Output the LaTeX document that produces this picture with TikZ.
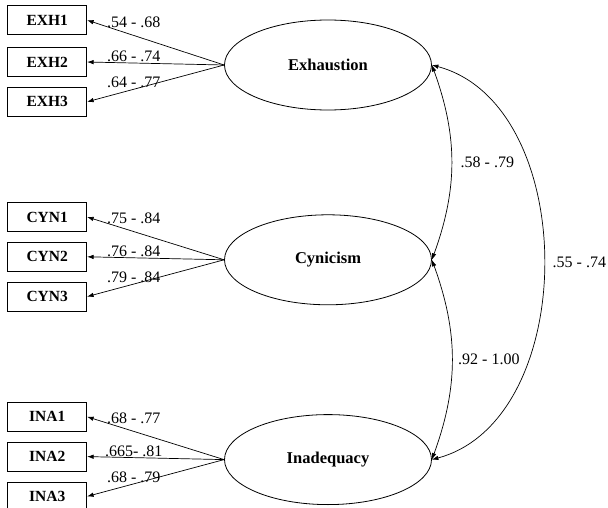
\documentclass[tikz,border=0pt]{standalone}
\usepackage{fontspec}
\setmainfont{Liberation Serif}
\usetikzlibrary{shapes.geometric,arrows.meta,positioning}

\begin{document}
\begin{tikzpicture}[
    x=1pt, y=1pt,
    node distance=10pt and 137pt,
    latent/.style={ellipse, draw, line width=0.8pt, minimum width=207pt, minimum height=90pt, font=\bfseries\fontsize{16.5}{18}\selectfont},
    item/.style={rectangle, draw, line width=0.8pt, minimum width=79pt, minimum height=29pt, font=\bfseries\fontsize{15.5}{17}\selectfont},
    load/.style={-{Latex[length=6.5pt,width=4.5pt]}, line width=0.7pt},
    corr/.style={{Latex[length=6.5pt,width=4.5pt]}-{Latex[length=6.5pt,width=4.5pt]}, line width=0.7pt},
    lbl/.style={font=\fontsize{16}{18}\selectfont, inner sep=1pt},
]
    \useasboundingbox (0,0) rectangle (608,-508);

    % latent factors
    \node[latent] (exh) at (328,-65) {Exhaustion};
    \node[latent, below=104pt of exh] (cyn) {Cynicism};
    \node[latent, below=109pt of cyn] (ina) {Inadequacy};

    % items
    \node[item, left=137pt of exh, yshift=3pt] (exh2) {EXH2};
    \node[item, above=12pt of exh2] (exh1) {EXH1};
    \node[item, below=of exh2] (exh3) {EXH3};
    \node[item, left=137pt of cyn, yshift=3pt] (cyn2) {CYN2};
    \node[item, above=of cyn2] (cyn1) {CYN1};
    \node[item, below=of cyn2] (cyn3) {CYN3};
    \node[item, left=137pt of ina, yshift=3pt] (ina2) {INA2};
    \node[item, above=of ina2] (ina1) {INA1};
    \node[item, below=of ina2] (ina3) {INA3};

    % loadings
    \draw[load] (exh.west) -- node[lbl, pos=.66, above=6pt] {.54 - .68} (exh1.east);
    \draw[load] (exh.west) -- node[lbl, pos=.66, above] {.66 - .74} (exh2.east);
    \draw[load] (exh.west) -- node[lbl, pos=.66, above] {.64 - .77} (exh3.east);
    \draw[load] (cyn.west) -- node[lbl, pos=.66, above=6pt] {.75 - .84} (cyn1.east);
    \draw[load] (cyn.west) -- node[lbl, pos=.66, above] {.76 - .84} (cyn2.east);
    \draw[load] (cyn.west) -- node[lbl, pos=.66, above] {.79 - .84} (cyn3.east);
    \draw[load] (ina.west) -- node[lbl, pos=.66, above=6pt] {.68 - .77} (ina1.east);
    \draw[load] (ina.west) -- node[lbl, pos=.66, above] {.665- .81} (ina2.east);
    \draw[load] (ina.west) -- node[lbl, pos=.66, above] {.68 - .79} (ina3.east);

    % correlations
    \draw[corr] (exh.east) to[bend left=20] node[lbl, right=8pt] {.58 - .79} (cyn.east);
    \draw[corr] (cyn.east) to[bend left=20] node[lbl, right=5pt] {.92 - 1.00} (ina.east);
    \draw[corr] (exh.east) to[bend left=75] node[lbl, right=8pt] {.55 - .74} (ina.east);
\end{tikzpicture}
\end{document}
